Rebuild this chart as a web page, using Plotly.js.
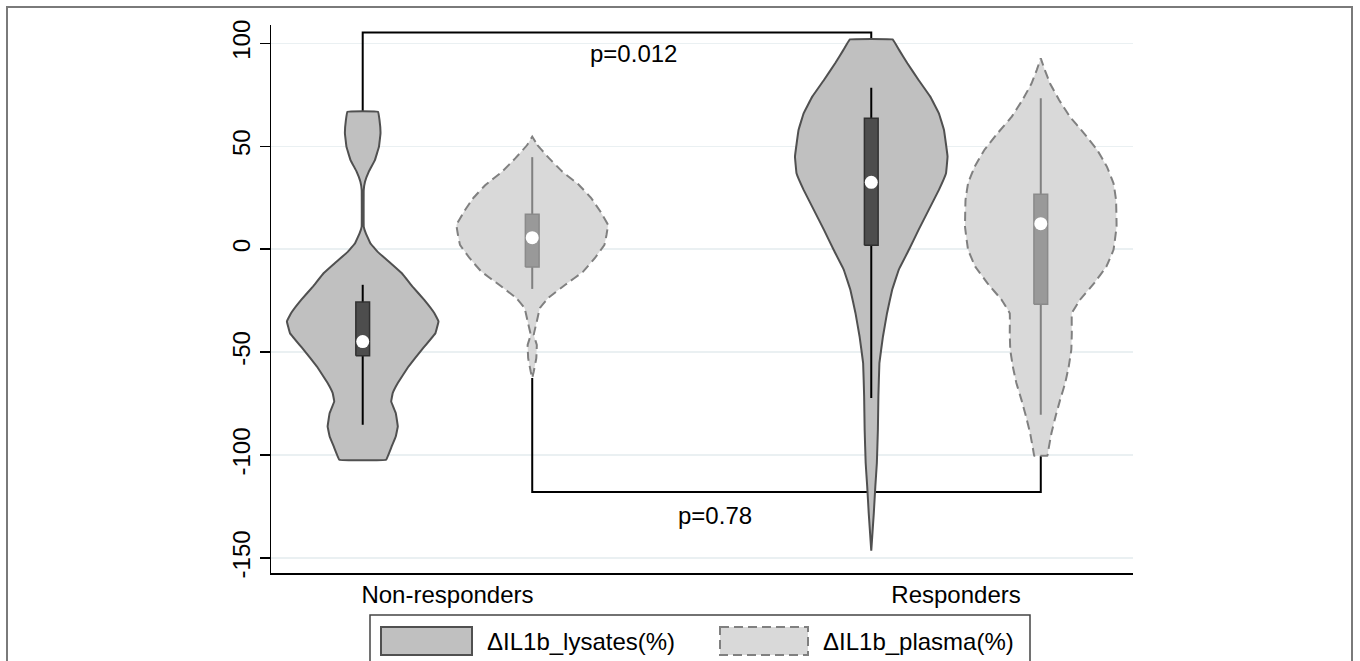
<!DOCTYPE html>
<html>
<head>
<meta charset="utf-8">
<script src="https://cdn.plot.ly/plotly-3.0.1.min.js"></script>
<style>html,body{margin:0;padding:0;background:#fff;}#chart{width:1360px;height:661px;}</style>
</head>
<body>
<div id="chart"></div>
<script>
// ---------- data ----------
const categories = ["Non-responders", "Responders"];
const seriesNames = ["\u0394IL1b_lysates(%)", "\u0394IL1b_plasma(%)"];
const yTicks = [-150, -100, -50, 0, 50, 100];

// violin outlines: value grid (y) and half-width (density, in x-axis units)
const nrLysatesY = [66.8, 62.8, 56.3, 49.8, 43.3, 37.7, 32.8, 28.8, 11.0, 7.8, 2.9, -1.2, -6.8, -11.7, -18.2, -24.6, -31.1, -35.1, -40.8, -48.9, -57.0, -65.0, -69.9, -74.0, -79.6, -86.1, -91.0, -95.8, -102.3];
const nrLysatesW = [0.030, 0.033, 0.035, 0.032, 0.024, 0.012, 0.0045, 0.002, 0.002, 0.006, 0.015, 0.029, 0.055, 0.077, 0.098, 0.121, 0.141, 0.149, 0.143, 0.116, 0.090, 0.069, 0.059, 0.056, 0.065, 0.069, 0.065, 0.057, 0.046];

const nrPlasmaY = [54.7, 50.6, 44.2, 37.7, 31.2, 24.8, 18.3, 11.8, 6.9, 2.1, -4.4, -10.9, -17.3, -23.8, -28.6, -35.1, -41.6, -46.5, -52.9, -59.4, -62.6];
const nrPlasmaW = [0, 0.010, 0.033, 0.059, 0.092, 0.116, 0.134, 0.149, 0.146, 0.142, 0.123, 0.100, 0.065, 0.031, 0.015, 0.009, 0.003, 0.009, 0.008, 0.003, 0];

const rLysatesY = [101.9, 96.7, 90.3, 82.2, 74.1, 66.0, 57.9, 45.0, 36.9, 28.8, 19.1, 9.4, -0.3, -10.0, -19.8, -31.1, -42.4, -55.3, -71.6, -87.7, -103.9, -115.2, -128.2, -146.5];
const rLysatesW = [0.042, 0.055, 0.071, 0.093, 0.116, 0.133, 0.143, 0.150, 0.147, 0.133, 0.113, 0.093, 0.074, 0.054, 0.041, 0.031, 0.023, 0.016, 0.014, 0.013, 0.011, 0.008, 0.005, 0];

const rPlasmaY = [92.7, 87.0, 80.6, 72.5, 64.4, 56.3, 48.2, 40.1, 32.0, 23.9, 11.0, -0.3, -8.4, -16.5, -24.6, -31.1, -40.8, -48.9, -57.0, -65.0, -73.2, -81.3, -89.3, -97.4, -100.3];
const rPlasmaW = [0, 0.008, 0.018, 0.036, 0.057, 0.085, 0.111, 0.130, 0.143, 0.148, 0.149, 0.143, 0.129, 0.105, 0.077, 0.061, 0.061, 0.060, 0.055, 0.048, 0.038, 0.029, 0.021, 0.015, 0.013];

// box statistics per category
const lysatesQ1 = [-51.8, 1.9];
const lysatesMedian = [-44.9, 32.5];
const lysatesQ3 = [-25.7, 63.6];
const lysatesLo = [-85.3, -72.3];
const lysatesHi = [-17.3, 78.4];

const plasmaQ1 = [-8.7, -26.7];
const plasmaMedian = [5.6, 12.4];
const plasmaQ3 = [17.0, 26.7];
const plasmaLo = [-19.3, -80.4];
const plasmaHi = [44.7, 73.3];

// significance brackets
const bracketLevels = [105.2, -118.0];
const pLabels = ["p=0.012", "p=0.78"];
const pLabelY = [95.1, -129.5];

// ---------- styles / positions ----------
const FONT = "Liberation Sans, Arial, sans-serif";
const OFF = 1 / 6;      // offset of each series from the category centre
const BOXW = 0.0135;    // half-width of the inner box
const L = 271, R = 227, T = 25, B = 88, W = 1360, H = 661;
const PW = W - L - R, PH = H - T - B;
const px = v => (v - L) / PW;
const py = v => (H - B - v) / PH;
const DASH = "9px,5px";

const styles = [
  {fill: "#c0c0c0", line: "#505050", dash: "solid", box: "#4d4d4d", boxLine: "#303030", whisk: "#000000"},
  {fill: "#d9d9d9", line: "#808080", dash: DASH, box: "#999999", boxLine: "#8a8a8a", whisk: "#808080"}
];

const violins = [
  {cat: 0, s: 0, y: nrLysatesY, w: nrLysatesW},
  {cat: 0, s: 1, y: nrPlasmaY, w: nrPlasmaW},
  {cat: 1, s: 0, y: rLysatesY, w: rLysatesW},
  {cat: 1, s: 1, y: rPlasmaY, w: rPlasmaW}
];
const stats = [
  {q1: lysatesQ1, med: lysatesMedian, q3: lysatesQ3, lo: lysatesLo, hi: lysatesHi},
  {q1: plasmaQ1, med: plasmaMedian, q3: plasmaQ3, lo: plasmaLo, hi: plasmaHi}
];
const centre = (cat, s) => (cat + 1) + (s === 0 ? -OFF : OFF);

const traces = [];

// brackets (below violins)
const topEnds = [nrLysatesY[0], rLysatesY[0]];
const botEnds = [nrPlasmaY[nrPlasmaY.length - 1], rPlasmaY[rPlasmaY.length - 1]];
traces.push({
  type: "scatter", mode: "lines", hoverinfo: "skip", showlegend: false,
  x: [centre(0, 0), centre(0, 0), centre(1, 0), centre(1, 0)],
  y: [topEnds[0], bracketLevels[0], bracketLevels[0], topEnds[1]],
  line: {color: "#000", width: 2}
});
traces.push({
  type: "scatter", mode: "lines", hoverinfo: "skip", showlegend: false,
  x: [centre(0, 1), centre(0, 1), centre(1, 1), centre(1, 1)],
  y: [botEnds[0], bracketLevels[1], bracketLevels[1], botEnds[1]],
  line: {color: "#000", width: 2}
});

violins.forEach(v => {
  const c = centre(v.cat, v.s);
  const st = styles[v.s];
  const xs = [], ys = [];
  for (let i = 0; i < v.y.length; i++) { xs.push(c + v.w[i]); ys.push(v.y[i]); }
  for (let i = v.y.length - 1; i >= 0; i--) { xs.push(c - v.w[i]); ys.push(v.y[i]); }
  xs.push(xs[0]); ys.push(ys[0]);
  traces.push({
    type: "scatter", mode: "lines", fill: "toself", hoverinfo: "skip", showlegend: false,
    name: seriesNames[v.s] + " " + categories[v.cat],
    x: xs, y: ys, fillcolor: st.fill,
    line: {color: st.line, width: 2, dash: st.dash, shape: "spline", smoothing: 0.15}
  });
  const sd = stats[v.s];
  // whisker
  traces.push({
    type: "scatter", mode: "lines", hoverinfo: "skip", showlegend: false,
    x: [c, c], y: [sd.lo[v.cat], sd.hi[v.cat]],
    line: {color: st.whisk, width: 2}
  });
  // box
  traces.push({
    type: "scatter", mode: "lines", fill: "toself", hoverinfo: "skip", showlegend: false,
    x: [c - BOXW, c + BOXW, c + BOXW, c - BOXW, c - BOXW],
    y: [sd.q1[v.cat], sd.q1[v.cat], sd.q3[v.cat], sd.q3[v.cat], sd.q1[v.cat]],
    fillcolor: st.box, line: {color: st.boxLine, width: 1.5}
  });
  // median
  traces.push({
    type: "scatter", mode: "markers", hoverinfo: "skip", showlegend: false,
    x: [c], y: [sd.med[v.cat]],
    marker: {color: "#ffffff", size: 13, line: {width: 0}}
  });
});

const shapes = [
  // outer frame
  {type: "rect", xref: "paper", yref: "paper", x0: px(7), x1: px(1352), y0: py(7), y1: py(740),
   line: {color: "#7a7a7a", width: 2}, fillcolor: "rgba(0,0,0,0)", layer: "above"},
  // legend box
  {type: "rect", xref: "paper", yref: "paper", x0: px(370), x1: px(1030), y0: py(615), y1: py(720),
   line: {color: "#444", width: 1.5}, fillcolor: "#ffffff", layer: "above"},
  // legend keys
  {type: "rect", xref: "paper", yref: "paper", x0: px(381), x1: px(472), y0: py(627), y1: py(655),
   line: {color: styles[0].line, width: 2}, fillcolor: styles[0].fill, layer: "above"},
  {type: "rect", xref: "paper", yref: "paper", x0: px(720), x1: px(808), y0: py(627), y1: py(655),
   line: {color: styles[1].line, width: 2, dash: DASH}, fillcolor: styles[1].fill, layer: "above"}
];

const annotations = [
  {xref: "x", yref: "y", x: 1.365, y: pLabelY[0], text: pLabels[0], showarrow: false,
   font: {family: FONT, size: 24, color: "#000"}},
  {xref: "x", yref: "y", x: 1.526, y: pLabelY[1], text: pLabels[1], showarrow: false,
   font: {family: FONT, size: 24, color: "#000"}},
  {xref: "paper", yref: "paper", x: px(485), y: py(641), xanchor: "left", yanchor: "middle",
   text: seriesNames[0], showarrow: false, font: {family: FONT, size: 24, color: "#000"}},
  {xref: "paper", yref: "paper", x: px(821), y: py(641), xanchor: "left", yanchor: "middle",
   text: seriesNames[1], showarrow: false, font: {family: FONT, size: 24, color: "#000"}}
];

const layout = {
  width: W, height: H,
  margin: {l: L, r: R, t: T, b: B, pad: 0},
  paper_bgcolor: "#ffffff", plot_bgcolor: "#ffffff",
  font: {family: FONT, size: 24, color: "#000"},
  showlegend: false,
  xaxis: {
    range: [0.653, 2.348], tickvals: [1, 2], ticktext: categories,
    showline: true, linecolor: "#000", linewidth: 1.5, ticks: "", showgrid: false, zeroline: false,
    tickfont: {family: FONT, size: 24, color: "#000"}, fixedrange: true
  },
  yaxis: {
    range: [-157.3, 108.9], tickvals: yTicks, ticktext: yTicks.map(String),
    showline: true, linecolor: "#000", linewidth: 1.5,
    ticks: "outside", ticklen: 10, tickwidth: 1.5, tickcolor: "#000",
    showgrid: true, gridcolor: "#eaf0f2", gridwidth: 1.5, zeroline: false,
    tickangle: -90, tickfont: {family: FONT, size: 24, color: "#000"}, fixedrange: true
  },
  shapes: shapes,
  annotations: annotations
};

Plotly.newPlot("chart", traces, layout, {staticPlot: true, displayModeBar: false});
</script>
</body>
</html>
